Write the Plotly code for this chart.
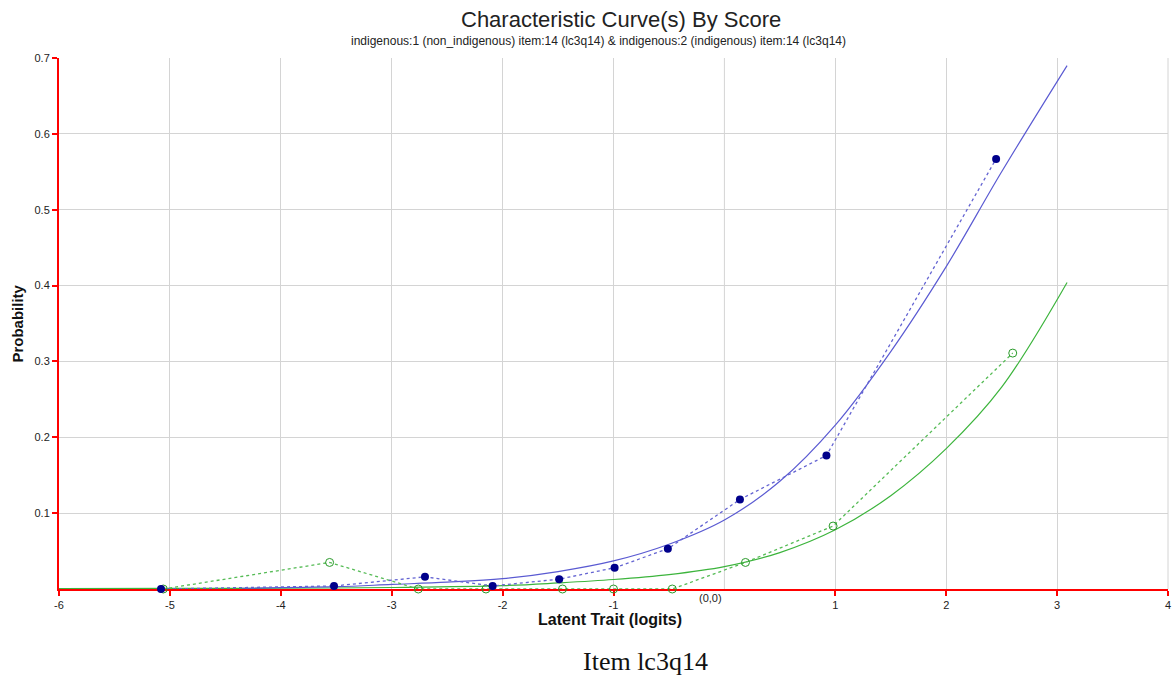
import plotly.graph_objects as go

# observed proportions (dashed lines with markers)
blue_obs_x = [-5.08, -3.52, -2.70, -2.09, -1.49, -0.99, -0.51, 0.14, 0.92, 2.45]
blue_obs_y = [0.0, 0.004, 0.016, 0.004, 0.013, 0.028, 0.053, 0.118, 0.176, 0.567]
green_obs_x = [-5.06, -3.56, -2.76, -2.15, -1.46, -1.00, -0.47, 0.19, 0.98, 2.60]
green_obs_y = [0.0, 0.035, 0.0, 0.0, 0.0, 0.0, 0.0, 0.035, 0.083, 0.311]

# model curves (solid)
blue_curve_x = [-4.35, -3.5, -3.0, -2.5, -2.0, -1.5, -1.0, -0.5, 0.0, 0.5, 1.0, 1.5, 2.0, 2.5, 3.09]
blue_curve_y = [0.001, 0.003, 0.006, 0.009, 0.0136, 0.023, 0.037, 0.059, 0.091, 0.142, 0.216, 0.313, 0.425, 0.550, 0.690]
green_curve_x = [-6.0, -5.0, -4.0, -3.0, -2.0, -1.5, -1.0, -0.5, 0.0, 0.5, 1.0, 1.5, 2.0, 2.5, 3.09]
green_curve_y = [0.0005, 0.0007, 0.001, 0.002, 0.0044, 0.008, 0.0125, 0.019, 0.0295, 0.048, 0.078, 0.123, 0.185, 0.266, 0.404]

x_ticks = [-6, -5, -4, -3, -2, -1, 1, 2, 3, 4]
y_ticks = [0.1, 0.2, 0.3, 0.4, 0.5, 0.6, 0.7]

fig = go.Figure()

fig.add_trace(go.Scatter(x=green_curve_x, y=green_curve_y, mode="lines",
                         line=dict(color="#3cb43c", width=1.2, shape="spline"),
                         cliponaxis=False, showlegend=False))
fig.add_trace(go.Scatter(x=blue_curve_x, y=blue_curve_y, mode="lines",
                         line=dict(color="#5a5ad2", width=1.2, shape="spline"),
                         cliponaxis=False, showlegend=False))
fig.add_trace(go.Scatter(x=green_obs_x, y=green_obs_y, mode="lines+markers",
                         line=dict(color="#55bb55", width=1.3, dash="3px,3px"),
                         marker=dict(symbol="circle-open", size=8, color="#2a9a2a", line=dict(width=1)),
                         cliponaxis=False, showlegend=False))
fig.add_trace(go.Scatter(x=blue_obs_x, y=blue_obs_y, mode="lines+markers",
                         line=dict(color="#6464d2", width=1.3, dash="3px,3px"),
                         marker=dict(symbol="circle", size=8, color="#00008b"),
                         cliponaxis=False, showlegend=False))

fig.update_layout(
    width=1176, height=680,
    margin=dict(l=59, r=5, t=58, b=91),
    paper_bgcolor="white", plot_bgcolor="white",
    font=dict(family="Liberation Sans, Arial, sans-serif", size=11, color="#222"),
    xaxis=dict(range=[-6, 4], tickvals=x_ticks, ticktext=[str(v) for v in x_ticks],
               showgrid=True, gridcolor="#d4d4d4", gridwidth=1, zeroline=False,
               showline=True, linecolor="red", linewidth=2, ticks="outside",
               tickcolor="red", ticklen=5, tickwidth=2, layer="below traces",
               tickfont=dict(size=11, color="#222")),
    yaxis=dict(range=[0, 0.7], tickvals=y_ticks, ticktext=[str(v) for v in y_ticks],
               showgrid=True, gridcolor="#d4d4d4", gridwidth=1, zeroline=False,
               showline=True, linecolor="red", linewidth=2, ticks="outside",
               tickcolor="red", ticklen=5, tickwidth=2, layer="below traces",
               tickfont=dict(size=11, color="#222")),
    shapes=[
        dict(type="line", xref="x", yref="paper", x0=0, x1=0, y0=0, y1=1,
             line=dict(color="#d4d4d4", width=1), layer="below"),
        dict(type="line", xref="paper", yref="paper", x0=1, x1=1, y0=0, y1=1,
             line=dict(color="#d4d4d4", width=1), layer="below"),
    ],
    annotations=[
        dict(text="Characteristic Curve(s) By Score", xref="paper", yref="paper",
             x=(623 - 59) / 1112, y=(589 - 20) / 531, yanchor="middle",
             showarrow=False, font=dict(size=22, color="#222")),
        dict(text="indigenous:1 (non_indigenous) item:14 (lc3q14) & indigenous:2 (indigenous) item:14 (lc3q14)",
             xref="paper", yref="paper", x=(600 - 59) / 1112, y=(589 - 41) / 531,
             yanchor="middle", showarrow=False, font=dict(size=12, color="#222")),
        dict(text="(0,0)", xref="paper", yref="paper", x=(712 - 59) / 1112, y=(589 - 598) / 531,
             yanchor="middle", showarrow=False, font=dict(size=11, color="#222")),
        dict(text="<b>Latent Trait (logits)</b>", xref="paper", yref="paper",
             x=(611 - 59) / 1112, y=(589 - 619) / 531, yanchor="middle",
             showarrow=False, font=dict(size=16, color="#111")),
        dict(text="<b>Probability</b>", xref="paper", yref="paper",
             x=(17 - 59) / 1112, y=0.5, textangle=-90, xanchor="center", yanchor="middle",
             showarrow=False, font=dict(size=15, color="#111")),
        dict(text="Item lc3q14", xref="paper", yref="paper",
             x=(647 - 59) / 1112, y=(589 - 662) / 531, yanchor="middle",
             showarrow=False, font=dict(family="Liberation Serif, Times New Roman, serif", size=26, color="#111")),
    ],
)

# drop the default page margin so the figure fills the window exactly
fig.write_html("out.html", config={"displayModeBar": False},
               post_script="document.body.style.margin='0';document.body.style.overflow='hidden';")
